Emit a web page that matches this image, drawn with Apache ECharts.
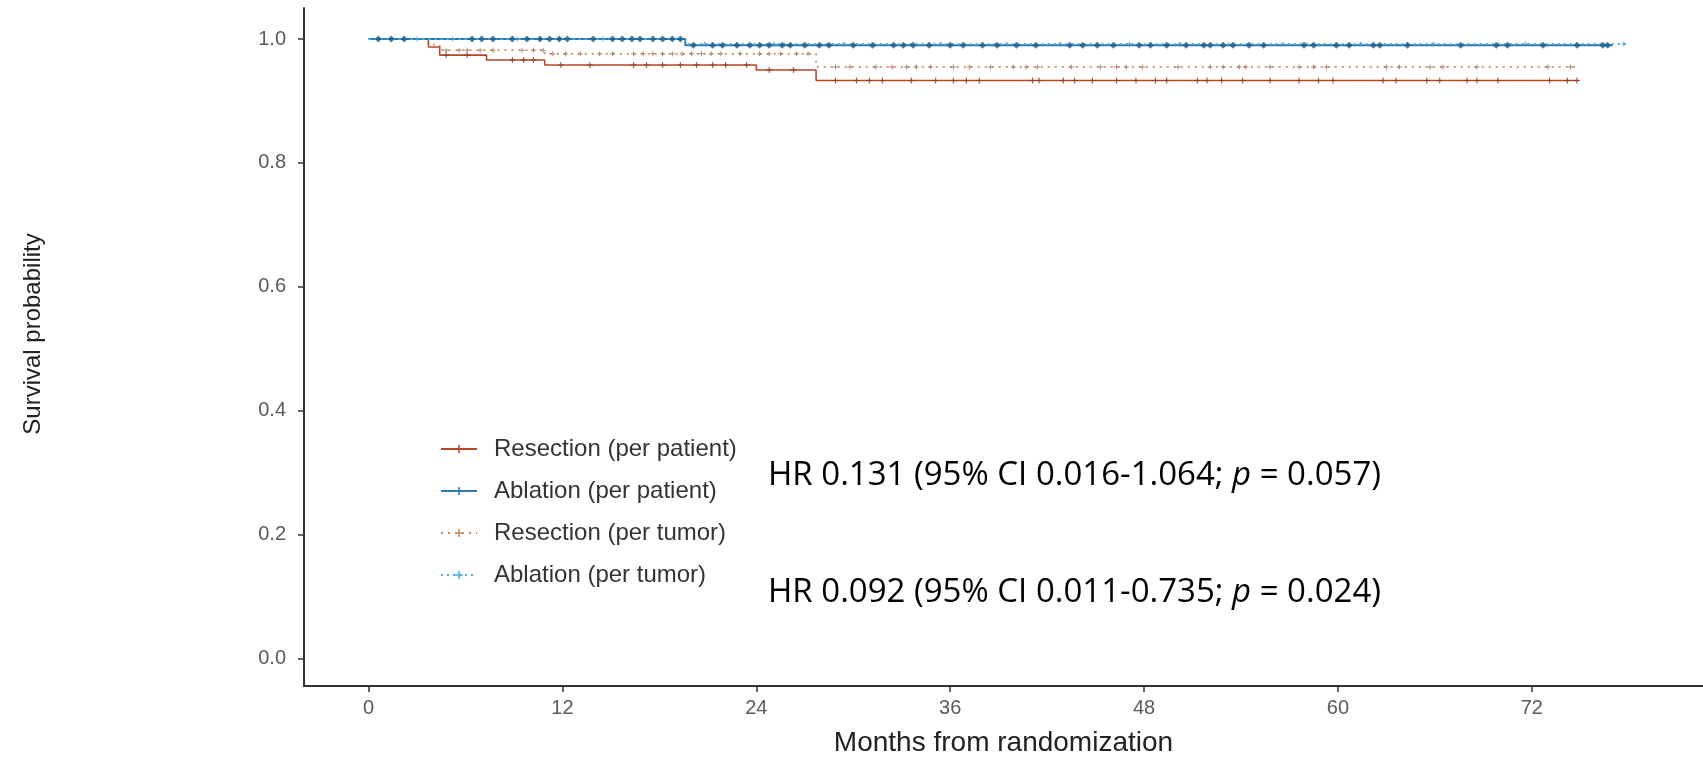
<!DOCTYPE html>
<html>
<head>
<meta charset="utf-8">
<title>Survival by treatment arm</title>
<script src="https://cdn.jsdelivr.net/npm/echarts@6/dist/echarts.min.js"></script>
<style>
  html, body { margin: 0; padding: 0; background: #ffffff; }
  #chart { width: 1703px; height: 763px; }
</style>
</head>
<body>
<div id="chart"></div>
<script>
// Axis ticks
const monthTicks = [0, 12, 24, 36, 48, 60, 72];
const probTicks = [0, 0.2, 0.4, 0.6, 0.8, 1.0];

// Kaplan-Meier step points: [month, survival probability]
const resectionPatient = [[0, 1], [3.7, 0.987], [4.4, 0.974], [7.3, 0.966], [10.9, 0.958], [24.0, 0.950], [27.7, 0.933], [74.9, 0.933]];
const ablationPatient = [[0, 1], [19.6, 0.990], [77.0, 0.990]];
const resectionTumor = [[0, 1], [3.7, 0.991], [4.4, 0.982], [10.9, 0.976], [27.7, 0.955], [74.9, 0.955]];
const ablationTumor = [[0, 1], [19.6, 0.992], [77.8, 0.992]];

// Censoring times (months)
const resectionPatientCensor = [4.8, 6.1, 8.9, 9.6, 10.2, 11.9, 13.7, 16.4, 17.2, 18.2, 19.3, 20.3, 21.3, 22.1, 23.4, 24.8, 26.3,
  28.9, 30.2, 31.0, 31.8, 33.6, 35.1, 36.2, 37.0, 37.8, 41.1, 41.5, 43.0, 43.7, 44.8, 46.3, 47.5, 48.7, 49.4, 51.3, 51.9, 52.8,
  54.1, 55.8, 57.6, 58.8, 59.7, 62.8, 63.6, 65.5, 66.3, 68.0, 68.6, 69.9, 73.1, 74.2, 74.8];
const ablationPatientCensor = [0.6, 1.4, 2.2, 6.4, 7.0, 7.7, 8.9, 9.8, 10.6, 11.2, 11.8, 12.3, 13.9, 15.1, 15.7, 16.3, 16.8, 17.6, 18.2, 18.8, 19.3,
  20.1, 21.3, 21.9, 22.8, 23.6, 24.2, 24.8, 25.6, 26.1, 27.0, 27.9, 28.5, 30.0, 31.2, 32.5, 33.1, 33.7, 34.7, 36.0, 36.8, 38.0, 38.9,
  40.1, 41.3, 43.4, 44.2, 45.1, 46.1, 47.7, 48.4, 49.4, 50.6, 51.7, 52.1, 52.9, 53.5, 54.5, 55.4, 57.9, 58.5, 59.9, 60.7, 62.2,
  62.6, 64.3, 67.6, 69.8, 70.5, 72.7, 74.8, 76.4, 76.7];
const resectionTumorCensor = [4.8, 5.6, 6.1, 6.9, 7.7, 9.5, 10.2, 10.8, 11.4, 12.2, 13.1, 14.3, 15.1, 16.4, 17.0, 17.6, 18.2, 18.8, 19.4, 20.0,
  20.6, 21.2, 21.8, 23.0, 24.2, 24.8, 25.5, 26.5, 27.2, 28.9, 29.8, 31.4, 32.4, 33.3, 33.9, 34.8, 36.2, 37.2, 38.5, 39.9, 40.7,
  41.4, 43.5, 45.3, 46.3, 46.9, 47.9, 50.1, 52.1, 52.9, 53.9, 54.3, 55.8, 57.6, 58.5, 59.3, 63.0, 63.8, 65.7, 66.5, 68.6, 73.0, 74.4];
const ablationTumorCensor = [3.0, 5.2, 9.2, 14.5, 20.8, 25.1, 29.4, 35.4, 39.5, 42.8, 47.1, 50.2, 56.6, 61.4, 65.9, 71.6, 77.7];

// Hazard ratio annotations
const hrPatient = { hr: '0.131', ci: '0.016-1.064', p: '0.057' };
const hrTumor = { hr: '0.092', ci: '0.011-0.735', p: '0.024' };

const names = ['Resection (per patient)', 'Ablation (per patient)', 'Resection (per tumor)', 'Ablation (per tumor)'];
const colors = {
  resPat: '#b9472b',
  ablPat: '#2a7ab4',
  resTum: '#c98a62',
  ablTum: '#4fb0da'
};
const plusPath = 'path://M4,0 L6,0 L6,4 L10,4 L10,6 L6,6 L6,10 L4,10 L4,6 L0,6 L0,4 L4,4 Z';

// survival value at time t for a step function
function survivalAt(steps, t) {
  let s = steps[0][1];
  for (const [x, y] of steps) { if (x <= t) s = y; }
  return s;
}
function censorPoints(steps, times) {
  return times.map(t => [t, survivalAt(steps, t)]);
}

function lineSeries(name, steps, color, type, width) {
  return {
    name: name,
    type: 'line',
    step: 'end',
    data: steps,
    symbol: plusPath,
    symbolSize: 7,
    showSymbol: false,
    itemStyle: { color: color },
    lineStyle: { color: color, width: width, type: type },
    emphasis: { disabled: true },
    silent: true,
    z: 2
  };
}
function censorSeries(steps, times, color, symbol, size) {
  return {
    type: 'scatter',
    data: censorPoints(steps, times),
    symbol: symbol,
    symbolSize: size,
    itemStyle: { color: color },
    silent: true,
    z: 3
  };
}

const chart = echarts.init(document.getElementById('chart'), null, { renderer: 'canvas' });

const hrRich = {
  n: { fontFamily: 'Open Sans', fontSize: 33, color: '#111111' },
  i: { fontFamily: 'Open Sans', fontSize: 33, fontStyle: 'italic', color: '#111111' }
};
function hrText(o) {
  return '{n|HR ' + o.hr + ' (95% CI ' + o.ci + '; }{i|p}{n| = ' + o.p + ')}';
}

const option = {
  backgroundColor: '#ffffff',
  animation: false,
  grid: { left: 304, right: 0, top: 8, bottom: 77, containLabel: false },
  xAxis: {
    type: 'value',
    min: -4.0,
    max: 82.6,
    name: 'Months from randomization',
    nameLocation: 'middle',
    nameGap: 43,
    nameTextStyle: { fontFamily: 'Liberation Sans', fontSize: 28, color: '#222222' },
    axisLine: { show: true, onZero: false, lineStyle: { color: '#333333', width: 2 } },
    axisTick: { show: true, length: 6, lineStyle: { color: '#333333', width: 1.5 }, customValues: monthTicks },
    axisLabel: { fontFamily: 'Liberation Sans', fontSize: 20, color: '#5a5a5a', margin: 12, customValues: monthTicks },
    splitLine: { show: false }
  },
  yAxis: {
    type: 'value',
    min: -0.044,
    max: 1.05,
    axisLine: { show: true, onZero: false, lineStyle: { color: '#333333', width: 2 } },
    axisTick: { show: true, length: 6, lineStyle: { color: '#333333', width: 1.5 }, customValues: probTicks },
    axisLabel: { fontFamily: 'Liberation Sans', fontSize: 20, color: '#5a5a5a', margin: 18, customValues: probTicks,
      formatter: v => v.toFixed(1) },
    splitLine: { show: false }
  },
  legend: {
    data: names,
    orient: 'vertical',
    left: 435,
    top: 431,
    itemWidth: 36,
    itemHeight: 10,
    itemGap: 16,
    selectedMode: false,
    textStyle: { fontFamily: 'Liberation Sans', fontSize: 24, color: '#333333', lineHeight: 26, padding: [0, 0, 0, 12] }
  },
  graphic: [
    {
      type: 'text', x: 33, y: 334, rotation: Math.PI / 2, silent: true,
      style: { text: 'Survival probability', fontFamily: 'Liberation Sans', fontSize: 24, fill: '#222222', align: 'center', verticalAlign: 'middle' }
    },
    { type: 'text', x: 768, y: 476, silent: true, style: { text: hrText(hrPatient), rich: hrRich, verticalAlign: 'middle' } },
    { type: 'text', x: 768, y: 593, silent: true, style: { text: hrText(hrTumor), rich: hrRich, verticalAlign: 'middle' } }
  ],
  series: [
    lineSeries(names[2], resectionTumor, colors.resTum, [2, 5], 1.6),
    lineSeries(names[0], resectionPatient, colors.resPat, 'solid', 1.6),
    lineSeries(names[1], ablationPatient, colors.ablPat, 'solid', 2),
    lineSeries(names[3], ablationTumor, colors.ablTum, [2, 4], 2),
    censorSeries(resectionTumor, resectionTumorCensor, '#9c6a4c', plusPath, 5),
    censorSeries(resectionPatient, resectionPatientCensor, '#8c3a24', plusPath, 6),
    censorSeries(ablationPatient, ablationPatientCensor, '#1f5c8a', 'diamond', 7),
    censorSeries(ablationTumor, ablationTumorCensor, '#3c9cc8', plusPath, 5)
  ]
};
chart.setOption(option);
</script>
</body>
</html>
